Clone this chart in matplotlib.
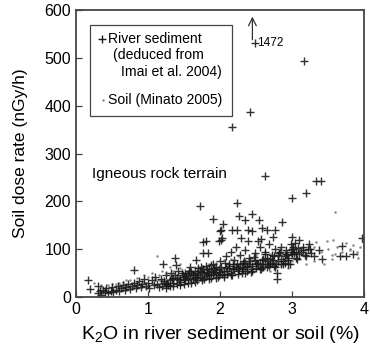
import matplotlib
matplotlib.use("Agg")
import matplotlib.pyplot as plt
from matplotlib.patches import Rectangle

plt.rcParams['font.family'] = ['Liberation Sans', 'DejaVu Sans']
plt.rcParams['mathtext.fontset'] = 'custom'
plt.rcParams['mathtext.rm'] = 'Liberation Sans'

# river sediment (deduced from Imai et al. 2004), K2O % vs dose rate nGy/h
sed_x = [0.16, 0.19, 0.30, 0.30, 0.33, 0.35, 0.38, 0.40, 0.42, 0.45, 0.48, 0.50, 0.52,
         0.55, 0.58, 0.60, 0.62, 0.65, 0.68, 0.70, 0.72, 0.75, 0.78, 0.80, 0.81, 0.83, 0.85,
         0.88, 0.90, 0.92, 0.95, 0.97, 1.00,
         1.02, 1.05, 1.08, 1.10, 1.12, 1.15, 1.18, 1.21, 1.22, 1.25, 1.28, 1.30, 1.32, 1.35,
         1.38, 1.39, 1.40, 1.42, 1.45, 1.48, 1.50,
         1.52, 1.55, 1.58, 1.60, 1.62, 1.65, 1.66, 1.68, 1.70, 1.72, 1.72, 1.75, 1.77, 1.76,
         1.78, 1.80, 1.80, 1.82, 1.84, 1.85, 1.88, 1.90, 1.90, 1.92, 1.95, 1.98, 1.98, 2.00, 2.00,
         2.01, 2.02, 2.03, 2.04, 2.05, 2.08, 2.10, 2.12, 2.15, 2.17, 2.17, 2.18, 2.20, 2.22,
         2.23, 2.23, 2.25, 2.27, 2.28, 2.29, 2.30, 2.32, 2.35, 2.35, 2.38, 2.39, 2.39, 2.40,
         2.42, 2.44, 2.45, 2.45, 2.48, 2.48, 2.50,
         2.53, 2.54, 2.55, 2.57, 2.58, 2.58, 2.60, 2.62, 2.63, 2.65, 2.65, 2.68, 2.70, 2.72,
         2.74, 2.76, 2.76, 2.79, 2.79, 2.80, 2.82, 2.85, 2.86, 2.88, 2.90, 2.92, 2.95, 2.98,
         3.00, 3.00, 3.00,
         3.02, 3.04, 3.06, 3.10, 3.12, 3.15, 3.17, 3.18, 3.20, 3.22, 3.23, 3.26, 3.30, 3.33,
         3.38, 3.40, 3.42, 3.66, 3.70, 3.75, 3.85, 3.97,
         1.20, 1.25, 1.30, 1.35, 1.40, 1.45, 1.50, 1.52, 1.55, 1.58, 1.60, 1.62, 1.65, 1.68,
         1.70, 1.72, 1.75, 1.78, 1.80, 1.82, 1.85, 1.88, 1.90, 1.92, 1.95, 1.98, 2.00, 2.02,
         2.05, 2.08, 2.10, 2.12, 2.15, 2.18, 2.20, 2.22, 2.25, 2.28, 2.30, 2.32, 2.35, 2.38,
         2.40, 2.42, 2.45, 2.48, 2.50, 2.52, 2.55, 2.58, 2.60, 2.62, 2.65, 2.68, 2.70, 2.72,
         2.75, 2.78, 2.80, 2.85, 2.90, 2.92, 2.95, 2.98, 3.00, 3.02, 3.05, 3.08, 3.10, 3.15,
         3.20, 3.25]
sed_y = [36, 17, 22, 8, 12, 5, 15, 10, 18, 8, 13, 20, 10,
         15, 22, 12, 18, 25, 14, 20, 28, 16, 24, 30, 56, 18, 26,
         34, 20, 28, 38, 22, 30,
         18, 35, 25, 42, 28, 20, 38, 70, 30, 45, 25, 36, 50, 30,
         81, 67, 40, 55, 32, 45, 28,
         50, 38, 62, 30, 45, 55, 77, 35, 60, 190, 42, 52, 115, 91,
         38, 118, 65, 48, 93, 58, 40, 164, 70, 52, 62, 118, 45, 139, 75,
         140, 119, 123, 152, 55, 85, 48, 68, 95, 355, 140, 58, 78, 105,
         196, 140, 62, 169, 88, 123, 50, 72, 162, 98, 65, 140, 118, 82,
         387, 137, 173, 58, 532, 92, 70,
         118, 162, 105, 121, 144, 78, 62, 95, 253, 140, 82, 110, 68, 88,
         126, 140, 100, 50, 38, 75, 92, 105, 157, 70, 85, 98, 78, 110,
         206, 125, 90,
         100, 112, 82, 119, 95, 105, 493, 88, 217, 100, 110, 92, 85, 243,
         98, 242, 80, 86, 107, 86, 89, 123,
         22, 28, 24, 40, 28, 38, 42, 35, 48, 40, 52, 38, 42, 50,
         45, 55, 40, 50, 44, 58, 46, 55, 48, 60, 50, 58, 52, 62,
         45, 60, 55, 65, 50, 70, 58, 62, 55, 68, 60, 58, 72, 55,
         68, 75, 65, 78, 60, 72, 68, 62, 80, 70, 75, 65, 80, 72,
         85, 70, 88, 80, 72, 90, 82, 95, 100, 105, 95, 102, 90, 98,
         85, 100]

# more sediment samples inside the dense band
band_x = [1.22, 1.27, 1.33, 1.37, 1.43, 1.47, 1.53, 1.57, 1.63, 1.67, 1.73, 1.77, 1.83,
          1.87, 1.93, 1.97, 2.03, 2.07, 2.13, 2.17, 2.23, 2.27, 2.33, 2.37, 2.43, 2.47,
          2.53, 2.57, 2.63, 2.67, 2.73, 2.77, 2.83, 2.87, 2.93, 2.97, 3.03, 3.07,
          1.25, 1.35, 1.45, 1.55, 1.65, 1.75, 1.85, 1.95, 2.05, 2.15, 2.25, 2.35, 2.45,
          2.55, 2.65, 2.75, 2.85, 2.95]
band_y = [34, 30, 38, 45, 35, 50, 44, 55, 48, 40, 62, 58, 52,
          66, 56, 42, 48, 72, 60, 45, 68, 58, 76, 62, 52, 84,
          70, 58, 90, 68, 78, 62, 95, 75, 88, 70, 92, 80,
          18, 22, 25, 30, 32, 35, 38, 40, 42, 45, 48, 50, 55,
          58, 62, 65, 68, 70]

# soil (Minato 2005)
soil_x = [0.25, 0.30, 0.35, 0.40, 0.45, 0.50, 0.55, 0.60, 0.65, 0.70, 0.75, 0.80, 0.85,
          0.90, 0.95, 1.00, 1.05, 1.10, 1.13, 1.15, 1.20, 1.25, 1.30, 1.35, 1.40, 1.45,
          1.50, 1.55, 1.60, 1.65, 1.70, 1.75, 1.80, 1.85, 1.90, 1.95, 2.00, 2.05, 2.10,
          2.15, 2.20, 2.25, 2.30, 2.40, 2.50, 2.60, 2.70, 2.80, 2.90, 3.00, 3.10, 3.20,
          3.30, 3.34, 3.40, 3.48, 3.50, 3.55, 3.57, 3.60, 3.62, 3.70, 3.75, 3.80, 3.85,
          3.90, 3.92, 3.94, 3.98, 3.30, 3.45, 3.55, 3.20, 3.10, 2.95, 2.85, 2.70,
          0.30, 0.35, 0.40, 0.45, 0.50, 0.55, 0.60, 0.65, 0.70, 0.75, 0.80, 0.85, 0.90,
          0.95, 1.00, 1.05, 1.10, 1.15, 1.20, 1.25, 1.30, 1.35, 1.40, 1.45, 1.50, 1.60,
          1.70, 1.80, 1.90, 2.00, 2.20, 2.40, 2.60, 2.80, 3.00, 3.60, 3.70, 3.80, 3.90]
soil_y = [30, 15, 20, 12, 25, 18, 28, 20, 32, 22, 35, 25, 40,
          28, 32, 42, 30, 38, 86, 45, 35, 50, 40, 55, 45, 60,
          48, 55, 50, 62, 55, 65, 58, 70, 60, 72, 65, 78, 62,
          80, 70, 85, 72, 80, 88, 78, 90, 85, 95, 88, 100, 92,
          105, 116, 95, 118, 100, 88, 119, 177, 105, 95, 112, 100, 108,
          95, 81, 105, 115, 75, 70, 80, 70, 80, 60, 65, 55,
          8, 25, 18, 10, 28, 12, 30, 15, 35, 18, 20, 32, 22,
          45, 20, 50, 25, 35, 55, 30, 62, 35, 42, 70, 38, 45,
          48, 52, 45, 55, 60, 65, 70, 72, 75, 90, 85, 98, 90]

sed_col = '#1a1a1a'
soil_col = '#8a8a8a'

fig = plt.figure(figsize=(3.7, 3.5), dpi=100)
ax = fig.add_axes([0.2054, 0.1514, 0.7784, 0.82])

ax.plot(soil_x, soil_y, linestyle='none', marker='o', markersize=1.8,
        color=soil_col, markeredgewidth=0)
ax.plot(sed_x + band_x, sed_y + band_y, linestyle='none', marker='+', markersize=6,
        markeredgewidth=1.0, color=sed_col, alpha=0.9)

# off-scale point
ax.annotate('', xy=(2.45, 592), xytext=(2.45, 532),
            arrowprops=dict(arrowstyle='->', color='#333333', lw=0.9,
                            mutation_scale=14))
ax.text(2.52, 532, '1472', fontsize=8.5, va='center', ha='left')

ax.text(0.22, 258, 'Igneous rock terrain', fontsize=11, va='center', ha='left')

# legend box drawn by hand
ax.add_patch(Rectangle((0.2, 379), 1.97, 189, fill=False, edgecolor='#444444', lw=0.9))
ax.plot([0.36], [539], linestyle='none', marker='+', markersize=6,
        markeredgewidth=1.0, color=sed_col)
ax.text(0.45, 539, 'River sediment', fontsize=10.1, va='center')
ax.text(0.52, 505, '(deduced from', fontsize=10.1, va='center')
ax.text(0.63, 471, 'Imai et al. 2004)', fontsize=10.1, va='center')
ax.plot([0.38], [412], linestyle='none', marker='o', markersize=1.8,
        color=soil_col, markeredgewidth=0)
ax.text(0.45, 412, 'Soil (Minato 2005)', fontsize=10.1, va='center')

ax.set_xlim(0, 4)
ax.set_ylim(0, 600)
ax.set_xticks([0, 1, 2, 3, 4])
ax.set_yticks([0, 100, 200, 300, 400, 500, 600])
ax.tick_params(direction='in', length=4, width=0.9, labelsize=11.5, color='#444444')
for s in ax.spines.values():
    s.set_color('#444444')
    s.set_linewidth(1.3)

ax.set_xlabel('K$_2$O in river sediment or soil (%)', fontsize=14, labelpad=5)
ax.set_ylabel('Soil dose rate (nGy/h)', fontsize=12.5, labelpad=12)

fig.savefig('out.png', dpi=100)
